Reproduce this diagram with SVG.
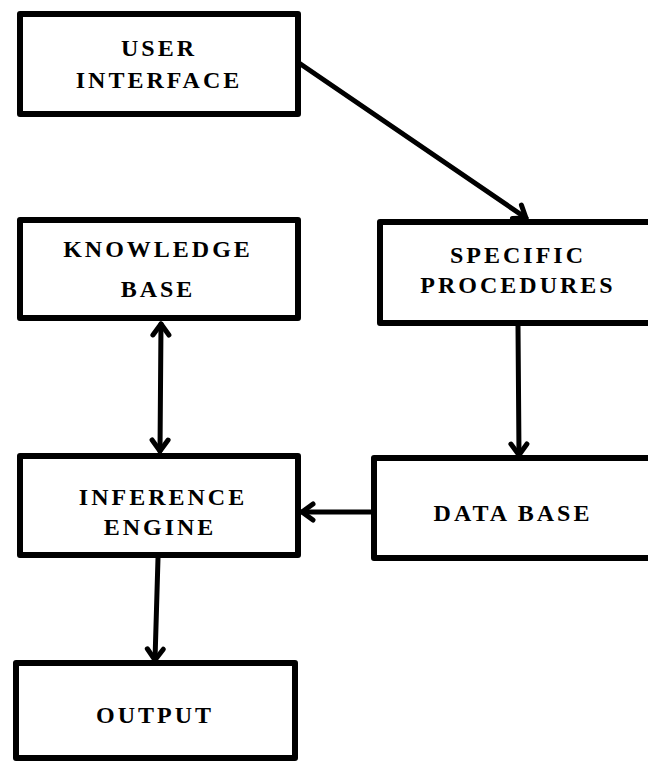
<svg xmlns="http://www.w3.org/2000/svg" width="648" height="763" viewBox="0 0 648 763">
<style>
.box{fill:#fff;stroke:#000;stroke-width:6;stroke-linejoin:round}
.lbl{font-family:"Liberation Serif","Times New Roman",serif;font-weight:bold;font-size:24px;letter-spacing:3px;fill:#000;text-anchor:middle}
.con{stroke:#000;stroke-width:5;fill:none;stroke-linecap:round}
</style>
<defs>
<marker id="ah" markerUnits="userSpaceOnUse" markerWidth="30" markerHeight="30" viewBox="-15 -15 30 30" refX="0" refY="0" orient="auto-start-reverse">
<path d="M -11 -8 L 0 0 L -11 8" fill="none" stroke="#000" stroke-width="5" stroke-linecap="round" stroke-linejoin="round"/>
</marker>
</defs>
<rect width="648" height="763" fill="#fff"/>
<g id="user-interface">
<rect class="box" x="20" y="14" width="278" height="100"/>
<text class="lbl" x="159" y="56">USER</text>
<text class="lbl" x="159" y="88">INTERFACE</text>
</g>
<g id="specific-procedures">
<rect class="box" x="380" y="222" width="300" height="101"/>
<text class="lbl" x="518" y="263">SPECIFIC</text>
<text class="lbl" x="518" y="293">PROCEDURES</text>
</g>
<g id="knowledge-base">
<rect class="box" x="20" y="220" width="278" height="98"/>
<text class="lbl" x="158" y="257">KNOWLEDGE</text>
<text class="lbl" x="158" y="297">BASE</text>
</g>
<g id="inference-engine">
<rect class="box" x="20" y="456" width="278" height="99"/>
<text class="lbl" x="163" y="505">INFERENCE</text>
<text class="lbl" x="160" y="535">ENGINE</text>
</g>
<g id="data-base">
<rect class="box" x="374" y="458" width="300" height="100"/>
<text class="lbl" x="513" y="521">DATA BASE</text>
</g>
<g id="output">
<rect class="box" x="16" y="663" width="279" height="95"/>
<text class="lbl" x="155" y="723">OUTPUT</text>
</g>
<g id="connectors">
<line class="con" x1="299" y1="63" x2="526" y2="218" marker-end="url(#ah)"/>
<line class="con" x1="161" y1="324" x2="160" y2="451" marker-start="url(#ah)" marker-end="url(#ah)"/>
<line class="con" x1="518" y1="326" x2="519" y2="455" marker-end="url(#ah)"/>
<line class="con" x1="372" y1="512" x2="302" y2="512" marker-end="url(#ah)"/>
<line class="con" x1="158" y1="558" x2="155" y2="660" marker-end="url(#ah)"/>
</g>
</svg>
